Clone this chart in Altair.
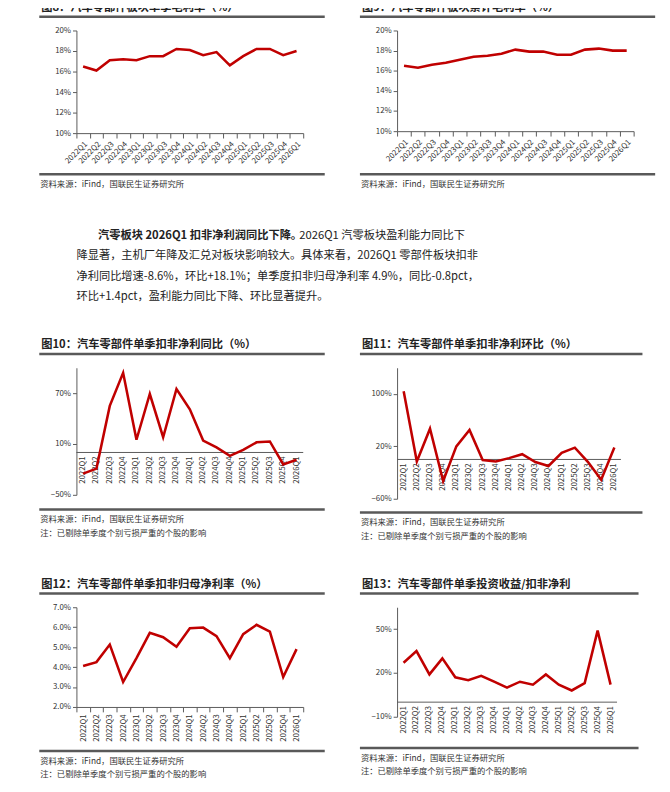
import altair as alt
import pandas as pd

FONT = "Noto Sans CJK SC"
RED = "#c00000"
GREY = "#595959"

quarters = ["2022Q1", "2022Q2", "2022Q3", "2022Q4", "2023Q1", "2023Q2", "2023Q3", "2023Q4",
            "2024Q1", "2024Q2", "2024Q3", "2024Q4", "2025Q1", "2025Q2", "2025Q3", "2025Q4", "2026Q1"]

gm_single = [16.5, 16.1, 17.1, 17.2, 17.1, 17.5, 17.5, 18.2, 18.1, 17.6, 17.9, 16.6, 17.5, 18.2, 18.2, 17.6, 18.0]
gm_cum = [16.5, 16.3, 16.6, 16.8, 17.1, 17.4, 17.5, 17.7, 18.1, 17.9, 17.9, 17.6, 17.6, 18.1, 18.2, 18.0, 18.0]
np_yoy = [-25, -19, 55, 94, 15, 69, 18, 75, 51, 14, 6, -4, 3, 12, 13, -14, -8.6]
np_qoq = [104, -3, 47, -33, 20, 45, -1, -3, 2, 8, -4, -10, 10, 18, -4, -31, 18.1]
np_margin = [4.05, 4.25, 5.13, 3.25, 4.45, 5.72, 5.5, 5.02, 5.95, 5.98, 5.55, 4.45, 5.65, 6.12, 5.78, 3.5, 4.9]
inv_ratio = [27, 35, 19, 30, 17, 15, 18, 14, 10, 14, 12, 19, 12, 8, 13, 49, 12]

SOURCE = "资料来源：iFind，国联民生证券研究所"
NOTE = "注：已剔除单季度个别亏损严重的个股的影响"

W = 232
one = pd.DataFrame({"a": [0]})


def panel(values, title, ticks, h, bottom_gap, fmt=".0f", zero_axis=False, label_angle=-45, note=True, w=W):
    df = pd.DataFrame({"q": quarters, "v": values})
    base = alt.Chart(df)
    ann = alt.Chart(one)
    x_axis = alt.Axis(labelAngle=label_angle, labelFontSize=8, labelColor="#333", tickBand="extent",
                      domainColor=GREY, tickColor=GREY, labelFont=FONT, title=None, labelOverlap=False)
    if zero_axis:
        x_axis = None
    x = alt.X("q:N", sort=quarters, axis=x_axis, scale=alt.Scale(type="band", paddingInner=0, paddingOuter=0),
              bandPosition=0.5, title=None)
    y = alt.Y("v:Q", scale=alt.Scale(domain=[ticks[0], ticks[-1]], nice=False),
              axis=alt.Axis(values=ticks, labelExpr=f"format(datum.value, '{fmt}') + '%'", grid=False,
                            labelFontSize=8, labelColor="#333", labelFont=FONT, domainColor=GREY,
                            tickColor=GREY, tickSize=4, title=None, labelOverlap=False))
    layers = []
    if zero_axis:
        layers.append(ann.mark_rule(color=GREY, strokeWidth=1).encode(
            y=alt.datum(0), x=alt.value(0), x2=alt.value(w)))
        layers.append(base.mark_text(angle=270, align="right", baseline="middle", dx=-4, fontSize=8,
                                     font=FONT, color="#333").encode(x=x, y=alt.datum(0), text="q:N"))
    layers.append(base.mark_line(color=RED, strokeWidth=2.6).encode(x=x, y=y))
    layers.append(ann.mark_text(align="left", baseline="alphabetic", fontSize=11.5, fontWeight="bold",
                                font=FONT, color="#222").encode(
        x=alt.value(-36), y=alt.value(-20), text=alt.value(title)))
    layers.append(ann.mark_rule(color=GREY, strokeWidth=2.5).encode(
        x=alt.value(-38), x2=alt.value(w + 22), y=alt.value(-14)))
    bottom = h + bottom_gap
    layers.append(ann.mark_rule(color=GREY, strokeWidth=2.5).encode(
        x=alt.value(-38), x2=alt.value(w + 22), y=alt.value(bottom)))
    layers.append(ann.mark_text(align="left", baseline="middle", fontSize=8.5, font=FONT, color="#333").encode(
        x=alt.value(-37), y=alt.value(bottom + 10), text=alt.value(SOURCE)))
    if note:
        layers.append(ann.mark_text(align="left", baseline="middle", fontSize=8.5, font=FONT, color="#333").encode(
            x=alt.value(-37), y=alt.value(bottom + 24), text=alt.value(NOTE)))
    return alt.layer(*layers).properties(width=w, height=h)


p8 = panel(gm_single, "图8：汽车零部件板块单季毛利率（%）", [10, 12, 14, 16, 18, 20], 105, 42, note=False)
p9 = panel(gm_cum, "图9：汽车零部件板块累计毛利率（%）", [10, 12, 14, 16, 18, 20], 103, 44, note=False, w=242)
p10 = panel(np_yoy, "图10：汽车零部件单季扣非净利同比（%）", [-50, -20, 10, 40, 70, 100], 130, 15, zero_axis=True)
p11 = panel(np_qoq, "图11：汽车零部件单季扣非净利环比（%）", [-60, -20, 20, 60, 100, 140], 134, 14,
            zero_axis=True, w=229)
p12 = panel(np_margin, "图12：汽车零部件单季扣非归母净利率（%）", [2, 3, 4, 5, 6, 7], 102, 45, fmt=".1f",
            label_angle=-90)
p13 = panel(inv_ratio, "图13：汽车零部件单季投资收益/扣非净利", [-10, 5, 20, 35, 50, 65], 112, 32,
            zero_axis=True, w=225)

lines = [
    "降显著，主机厂年降及汇兑对板块影响较大。具体来看，2026Q1 零部件板块扣非",
    "净利同比增速-8.6%，环比+18.1%；单季度扣非归母净利率 4.9%，同比-0.8pct，",
    "环比+1.4pct，盈利能力同比下降、环比显著提升。",
]
tbase = alt.Chart(one)
tl = [
    tbase.mark_text(align="left", baseline="middle", fontSize=11.5, fontWeight="bold", font=FONT, color="#222")
    .encode(x=alt.value(22), y=alt.value(8), text=alt.value("汽零板块 2026Q1 扣非净利润同比下降。")),
    tbase.mark_text(align="left", baseline="middle", fontSize=11.5, font=FONT, color="#222")
    .encode(x=alt.value(228), y=alt.value(8), text=alt.value("2026Q1 汽零板块盈利能力同比下")),
]
for i, line in enumerate(lines):
    tl.append(tbase.mark_text(align="left", baseline="middle", fontSize=11.5, font=FONT, color="#222")
              .encode(x=alt.value(0), y=alt.value(29 + 21 * i), text=alt.value(line)))
text_block = alt.layer(*tl).properties(width=420, height=80)

row1 = alt.hconcat(p8, p9, spacing=32)
row3 = alt.hconcat(p10, p11, spacing=32)
row4 = alt.hconcat(p12, p13, spacing=32)

a = alt.vconcat(row1, text_block, spacing=40)
b = alt.vconcat(a, row3, spacing=34)
chart = alt.vconcat(b, row4, spacing=39).configure_view(stroke=None).properties(
    padding={"left": 30, "top": -15, "right": 5, "bottom": 5})

chart.save("out.html", embed_options={"renderer": "svg", "actions": False})
